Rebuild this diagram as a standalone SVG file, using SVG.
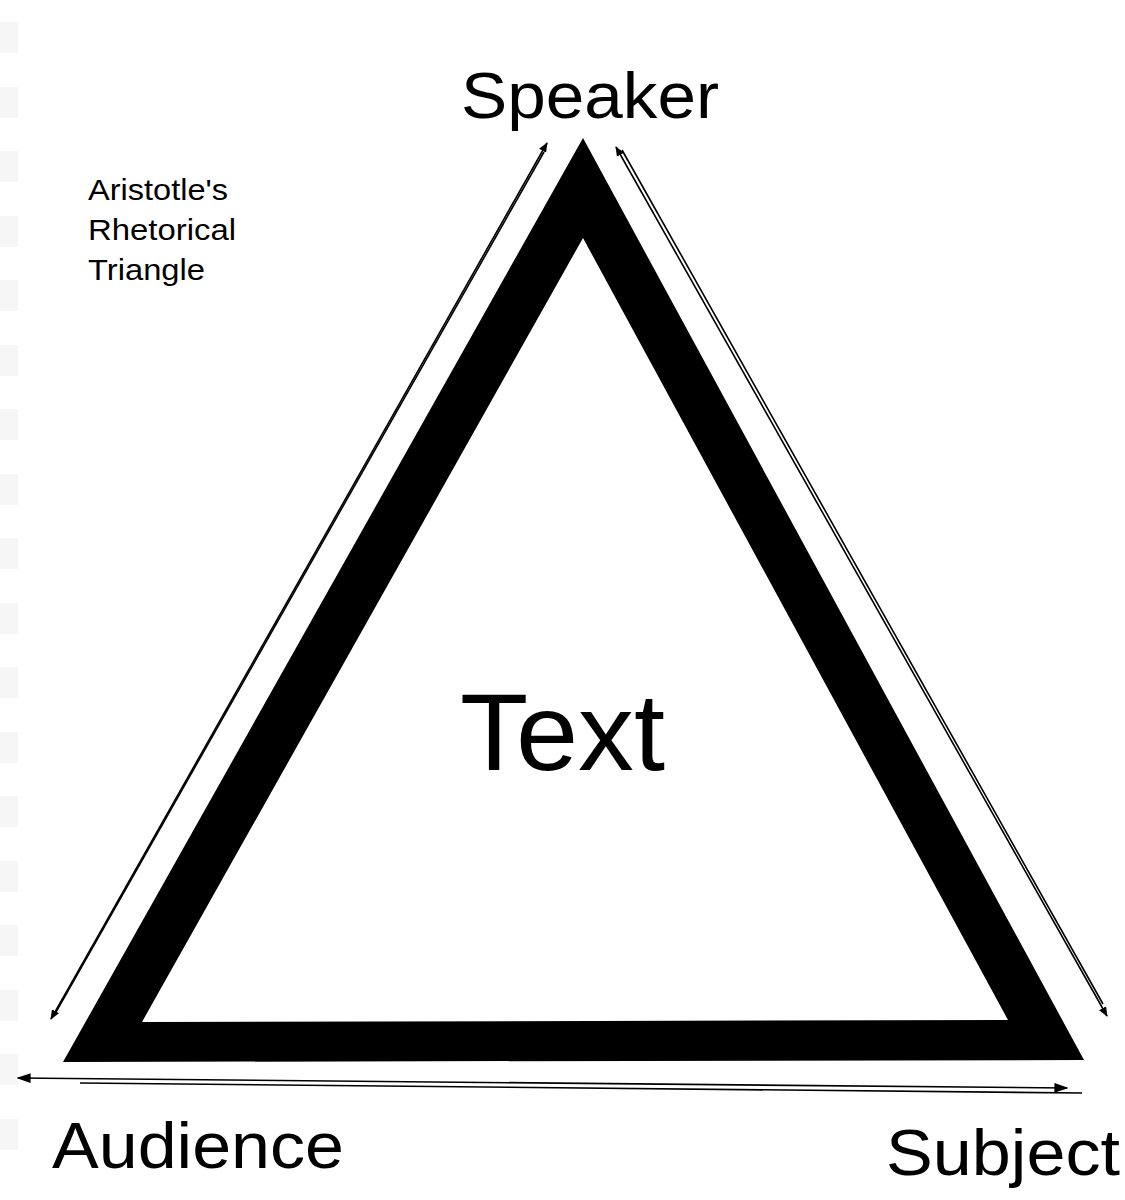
<svg xmlns="http://www.w3.org/2000/svg" width="1125" height="1200" viewBox="0 0 1125 1200">
<style>
.lbl{font-family:"Liberation Sans",Arial,sans-serif;fill:#000}
.con{stroke:#000;stroke-width:1.6;fill:none}
.strip{fill:#f6f6f6}
</style>
<defs>
<marker id="ah" viewBox="0 0 10 10" refX="9" refY="5" markerWidth="10" markerHeight="10" markerUnits="userSpaceOnUse" orient="auto-start-reverse">
<path d="M0,1 L10,5 L0,9 Z" fill="#000"/>
</marker>
<marker id="ahb" viewBox="0 0 10 10" refX="9" refY="5" markerWidth="14" markerHeight="14" markerUnits="userSpaceOnUse" orient="auto-start-reverse">
<path d="M0,1.5 L10,5 L0,8.5 Z" fill="#000"/>
</marker>
</defs>
<rect width="1125" height="1200" fill="#fff"/>
<g id="strips">
<rect class="strip" x="0" y="22" width="18" height="31"/>
<rect class="strip" x="0" y="87" width="18" height="31"/>
<rect class="strip" x="0" y="151" width="18" height="31"/>
<rect class="strip" x="0" y="216" width="18" height="31"/>
<rect class="strip" x="0" y="280" width="18" height="31"/>
<rect class="strip" x="0" y="345" width="18" height="31"/>
<rect class="strip" x="0" y="409" width="18" height="31"/>
<rect class="strip" x="0" y="474" width="18" height="31"/>
<rect class="strip" x="0" y="538" width="18" height="31"/>
<rect class="strip" x="0" y="603" width="18" height="31"/>
<rect class="strip" x="0" y="667" width="18" height="31"/>
<rect class="strip" x="0" y="732" width="18" height="31"/>
<rect class="strip" x="0" y="796" width="18" height="31"/>
<rect class="strip" x="0" y="861" width="18" height="31"/>
<rect class="strip" x="0" y="925" width="18" height="31"/>
<rect class="strip" x="0" y="990" width="18" height="31"/>
<rect class="strip" x="0" y="1054" width="18" height="31"/>
<rect class="strip" x="0" y="1119" width="18" height="31"/>
</g>
<g id="triangle">
<path fill-rule="evenodd" fill="#000" d="M583,138 L1084,1060 L63,1062 Z M583,238 L142,1022 L1008,1020 Z"/>
</g>
<g id="connectors">
<line class="con" x1="547" y1="143" x2="51" y2="1019" marker-start="url(#ah)" marker-end="url(#ah)"/>
<line class="con" x1="544" y1="152" x2="56" y2="1012" stroke-width="1"/>
<line class="con" x1="616" y1="147" x2="1107" y2="1016" marker-start="url(#ah)" marker-end="url(#ah)"/>
<line class="con" x1="622" y1="150" x2="1103" y2="1004" stroke-width="1.2"/>
<line class="con" x1="18" y1="1078" x2="1067" y2="1088" marker-start="url(#ahb)" marker-end="url(#ahb)"/>
<line class="con" x1="80" y1="1083" x2="1082" y2="1093" stroke="#555" stroke-width="2"/>
</g>
<g id="title">
<text class="lbl" x="88" y="200" font-size="29" textLength="140" lengthAdjust="spacingAndGlyphs">Aristotle's</text>
<text class="lbl" x="88" y="240" font-size="29" textLength="148" lengthAdjust="spacingAndGlyphs">Rhetorical</text>
<text class="lbl" x="88" y="280" font-size="29" textLength="117" lengthAdjust="spacingAndGlyphs">Triangle</text>
</g>
<g id="speaker"><text class="lbl" x="461" y="118" font-size="64" textLength="258" lengthAdjust="spacingAndGlyphs">Speaker</text></g>
<g id="text"><text class="lbl" x="460" y="770" font-size="110" textLength="205" lengthAdjust="spacingAndGlyphs">Text</text></g>
<g id="audience"><text class="lbl" x="52" y="1168" font-size="64" textLength="292" lengthAdjust="spacingAndGlyphs">Audience</text></g>
<g id="subject"><text class="lbl" x="886" y="1175" font-size="64" textLength="234" lengthAdjust="spacingAndGlyphs">Subject</text></g>
</svg>
